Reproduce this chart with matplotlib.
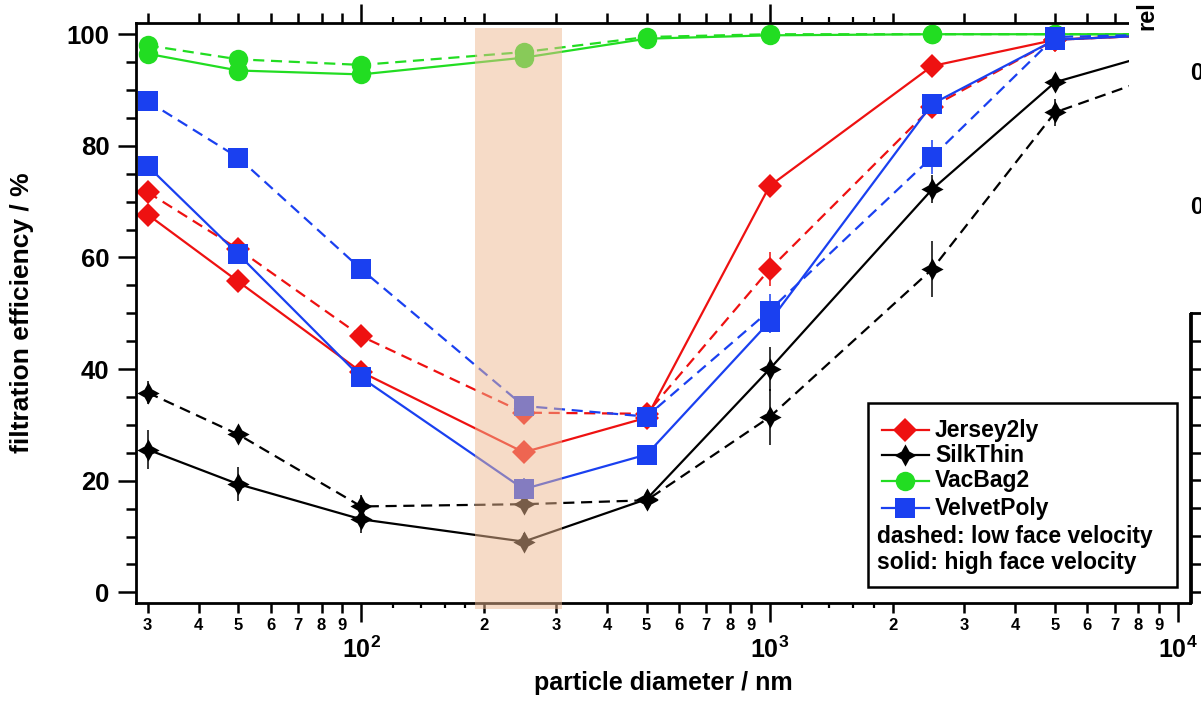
import numpy as np
import matplotlib
matplotlib.use('Agg')
import matplotlib.pyplot as plt
from matplotlib.patches import Rectangle
from matplotlib.ticker import FixedLocator, FuncFormatter, NullLocator, LogLocator, MultipleLocator

plt.rcParams['font.family'] = ['Liberation Sans', 'DejaVu Sans']
plt.rcParams['font.weight'] = 'bold'
plt.rcParams['mathtext.fontset'] = 'custom'
plt.rcParams['mathtext.rm'] = 'Liberation Sans:bold'
plt.rcParams['mathtext.bf'] = 'Liberation Sans:bold'
plt.rcParams['mathtext.it'] = 'Liberation Sans:bold'

# particle diameter (nm)
d_nm = [30, 50, 100, 250, 500, 1000, 2500, 5000, 10000]

# filtration efficiency (%), hi = high face velocity (solid), lo = low face velocity (dashed)
jersey_hi = [67.7, 55.7, 39.5, 25.1, 31.3, 72.8, 94.3, 99.0, 100.0]
jersey_hi_err = [1.5, 1.2, 1.0, 1.5, 1.0, 1.8, 1.0, 0.5, 0.3]
jersey_lo = [71.7, 61.5, 45.9, 32.2, 32.0, 57.9, 87.0, 99.0, 100.0]
jersey_lo_err = [1.5, 2.0, 1.8, 1.5, 1.0, 3.0, 1.5, 0.5, 0.3]

silk_hi = [25.6, 19.4, 13.1, 9.1, 16.7, 40.0, 72.2, 91.4, 97.7]
silk_hi_err = [3.5, 3.0, 2.5, 1.5, 1.5, 4.0, 2.5, 1.5, 1.0]
silk_lo = [35.8, 28.3, 15.4, 15.8, 16.5, 31.4, 57.9, 86.0, 93.8]
silk_lo_err = [2.0, 1.2, 2.0, 1.5, 1.5, 5.0, 5.0, 2.4, 1.5]

vac_hi = [96.5, 93.5, 92.8, 95.8, 99.2, 99.8, 100.0, 100.0, 100.0]
vac_hi_err = [0.5, 0.5, 0.5, 0.5, 0.3, 0.2, 0.1, 0.1, 0.1]
vac_lo = [98.0, 95.5, 94.5, 96.8, 99.5, 100.0, 100.0, 100.0, 100.0]
vac_lo_err = [0.5, 0.5, 0.5, 0.5, 0.3, 0.2, 0.1, 0.1, 0.1]

velvet_hi = [76.4, 60.6, 38.5, 18.5, 24.7, 48.5, 87.5, 99.0, 100.0]
velvet_hi_err = [1.0, 1.5, 1.0, 2.0, 1.5, 2.0, 1.5, 0.5, 0.3]
velvet_lo = [88.0, 77.9, 57.9, 33.4, 31.5, 50.5, 78.0, 99.5, 100.0]
velvet_lo_err = [1.0, 1.0, 1.0, 1.0, 1.0, 3.0, 3.0, 0.5, 0.3]

# most penetrating particle size range (shaded)
mpps_range = [190, 310]

# 4-pointed star marker shape
ang = np.arange(8) * np.pi / 4 + np.pi / 2
rad = np.where(np.arange(8) % 2 == 0, 1.0, 0.5)
star4 = list(zip(rad * np.cos(ang), rad * np.sin(ang)))

names = ['Jersey2ly', 'SilkThin', 'VacBag2', 'VelvetPoly']
colors = ['#ee1111', '#000000', '#22dd22', '#1a40f0']
markers = ['D', star4, 'o', 's']
msizes = [12.5, 16, 14, 14]
series = [(jersey_lo, jersey_lo_err, jersey_hi, jersey_hi_err),
          (silk_lo, silk_lo_err, silk_hi, silk_hi_err),
          (vac_lo, vac_lo_err, vac_hi, vac_hi_err),
          (velvet_lo, velvet_lo_err, velvet_hi, velvet_hi_err)]

fig = plt.figure(figsize=(12.01, 7.01), dpi=100)
ax = fig.add_axes([136/1201, 1-603/701, (1190-136)/1201, (603-22.5)/701])

for (lo, lo_err, hi, hi_err), c, m, ms in zip(series, colors, markers, msizes):
    ax.errorbar(d_nm, lo, yerr=lo_err, color=c, lw=1.6, dashes=(5, 3),
                marker=m, ms=ms, mew=0, ecolor=c, elinewidth=1.1, capsize=5, capthick=1.1)
    ax.errorbar(d_nm, hi, yerr=hi_err, color=c, lw=1.6, ls='-',
                marker=m, ms=ms, mew=0, ecolor=c, elinewidth=1.1, capsize=5, capthick=1.1)

# shaded band, drawn over the data
ax.add_patch(Rectangle((mpps_range[0], -2.9), mpps_range[1]-mpps_range[0], 104.0,
                       color='#efb991', alpha=0.5, lw=0, zorder=10, clip_on=False))

ax.set_xscale('log')
ax.set_xlim(28.1, 10700)
ax.set_ylim(-1.9, 102.1)

ax.xaxis.set_major_locator(FixedLocator([100, 1000, 10000]))
ax.xaxis.set_major_formatter(FuncFormatter(lambda v, p: r'$\mathbf{10^{%d}}$' % round(np.log10(v))))
ax.xaxis.set_minor_locator(LogLocator(base=10, subs=np.arange(2, 10)))
ax.xaxis.set_minor_formatter(FuncFormatter(lambda v, p: '%d' % round(v / 10**np.floor(np.log10(v) + 1e-9))))
ax.yaxis.set_major_locator(MultipleLocator(20))
ax.yaxis.set_minor_locator(MultipleLocator(5))

ax.tick_params(axis='x', which='major', length=13.5, width=1.8, labelsize=18, pad=11, top=True, direction='out')
ax.tick_params(axis='x', which='minor', length=7, width=1.8, labelsize=12, pad=4, top=True, direction='out')
ax.tick_params(axis='y', which='major', length=13, width=1.8, labelsize=18.5, pad=6, direction='out')
ax.tick_params(axis='y', which='minor', length=7, width=1.8, direction='out')
for s in ax.spines.values():
    s.set_linewidth(2.0)

# small unlabeled ticks between 1 and 2 of each decade
for loc in ['bottom', 'top']:
    sec = ax.secondary_xaxis(loc)
    sec.xaxis.set_major_locator(FixedLocator([120, 140, 160, 180, 1200, 1400, 1600, 1800]))
    sec.xaxis.set_minor_locator(NullLocator())
    sec.tick_params(length=3.8, width=1.6, labelbottom=False, labeltop=False, direction='out')
    sec.spines[loc].set_visible(False)

ax.set_xlabel('particle diameter / nm', fontsize=18, fontweight='bold')
ax.set_ylabel('filtration efficiency / %', fontsize=19, fontweight='bold')
ax.xaxis.set_label_coords(0.5, -0.118)
ax.yaxis.set_label_coords(-0.097, 0.5)

# legend box
def ax_x(px):
    return (px - 136) / 1054

def ax_y(py):
    return (603 - py) / 580.5

ax.add_patch(Rectangle((ax_x(868), ax_y(587)), ax_x(1177)-ax_x(868), ax_y(403)-ax_y(587),
                       transform=ax.transAxes, facecolor='white', edgecolor='black', lw=1.8, zorder=20))
row_py = [430, 455, 481, 508]
for name, c, m, ms, py in zip(names, colors, markers, msizes, row_py):
    ax.plot([ax_x(882), ax_x(929)], [ax_y(py)]*2, color=c, lw=1.6, transform=ax.transAxes, zorder=21)
    ax.plot([ax_x(905)], [ax_y(py)], color=c, marker=m, ms=ms, mew=0, transform=ax.transAxes, zorder=21)
    ax.text(ax_x(935), ax_y(py), name, transform=ax.transAxes, fontsize=16.5, fontweight='bold',
            va='center', ha='left', zorder=22)
ax.text(ax_x(877), ax_y(537), 'dashed: low face velocity', transform=ax.transAxes, fontsize=16.5,
        fontweight='bold', va='center', ha='left', zorder=22)
ax.text(ax_x(877), ax_y(563), 'solid: high face velocity', transform=ax.transAxes, fontsize=16.5,
        fontweight='bold', va='center', ha='left', zorder=22)

# neighbouring panel that covers the top right corner
fig.add_artist(Rectangle((1129/1201, 1-313/701), 1-1129/1201, 313/701, transform=fig.transFigure,
                         facecolor='white', edgecolor='none', zorder=100))
fig.text(1147/1201, 1-30/701, 'rel', rotation=90, ha='center', va='bottom', fontsize=17,
         fontweight='bold', zorder=101)
fig.text(1190/1201, 1-73/701, '0', ha='left', va='center', fontsize=17, fontweight='bold', zorder=101)
fig.text(1190/1201, 1-207/701, '0', ha='left', va='center', fontsize=17, fontweight='bold', zorder=101)
ax2 = fig.add_axes([1191/1201, 1-602/701, 0.2, (602-313)/701], zorder=101)
ax2.set_facecolor('none')
ax2.set_ylim(0, 289)
ax2.set_xticks([])
ax2.set_yticks(np.arange(10, 289, 27.9))
ax2.tick_params(axis='y', direction='in', length=9, width=1.8, labelleft=False)
for k in ['right', 'bottom']:
    ax2.spines[k].set_visible(False)
for k in ['left', 'top']:
    ax2.spines[k].set_linewidth(2.0)

fig.savefig('out.png', dpi=100)
